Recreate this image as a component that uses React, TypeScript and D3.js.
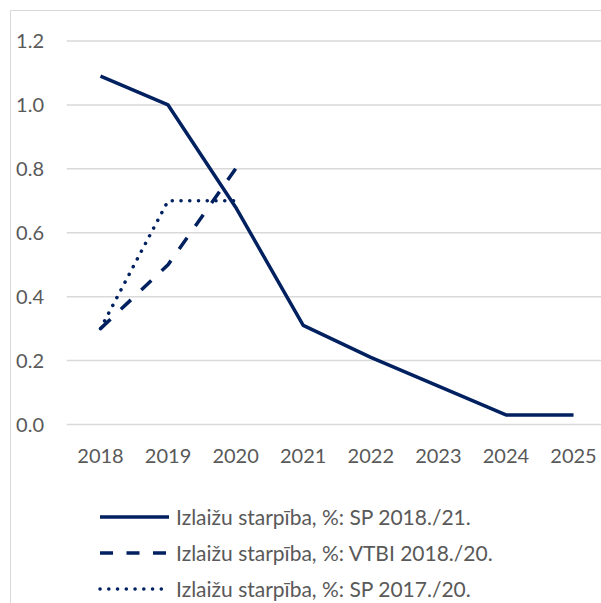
import React from "react";
import * as d3 from "d3";

const years = ["2018", "2019", "2020", "2021", "2022", "2023", "2024", "2025"];
const yTicks = [0, 0.2, 0.4, 0.6, 0.8, 1.0, 1.2];

const seriesSP1821 = [1.09, 1.0, 0.68, 0.31, 0.21, 0.12, 0.03, 0.03];
const seriesVTBI = [0.3, 0.5, 0.8];
const seriesSP1720 = [0.3, 0.7, 0.7];

const legendLabels = [
  "Izlaižu starpība, %: SP 2018./21.",
  "Izlaižu starpība, %: VTBI 2018./20.",
  "Izlaižu starpība, %: SP 2017./20.",
];

const W = 601;
const H = 603;
const COLOR = "#002060";
const FONT = "Lato, 'Open Sans', sans-serif";

export default function App() {
  const x = d3.scaleBand<string>().domain(years).range([66.7, 607.3]);
  const y = d3.scaleLinear().domain([0, 1.2]).range([424.5, 41]);
  const cx = (yr: string) => (x(yr) as number) + x.bandwidth() / 2;

  const line = d3
    .line<number>()
    .x((_, i) => cx(years[i]))
    .y((d) => y(d));

  // fit dash pattern so the dashed series starts and ends on a dash
  const pathLen = (data: number[]) => {
    let L = 0;
    for (let i = 1; i < data.length; i++) {
      L += Math.hypot(cx(years[i]) - cx(years[i - 1]), y(data[i]) - y(data[i - 1]));
    }
    return L;
  };
  const dashLen = 13;
  const gapLen = 13.5;
  const Lv = pathLen(seriesVTBI);
  const n = Math.max(1, Math.round((Lv - dashLen) / (dashLen + gapLen)));
  const k = Lv / (n * (dashLen + gapLen) + dashLen);
  const vtbiDash = `${dashLen * k} ${gapLen * k}`;

  const series = [
    { data: seriesSP1821, dash: undefined as string | undefined, legendDash: undefined as string | undefined, cap: "butt" },
    { data: seriesVTBI, dash: vtbiDash, legendDash: "13 13.5", cap: "butt" },
    { data: seriesSP1720, dash: "0.1 8.65", legendDash: "0.1 8.65", cap: "round" },
  ];

  const legendY = [517, 553, 589];

  return (
    <div style={{ position: "fixed", left: 0, top: 0, width: W, height: H, overflow: "hidden", background: "#fff" }}>
      <svg width={W} height={H} style={{ display: "block" }}>
        <rect x={10.5} y={10.5} width={800} height={800} fill="#fff" stroke="#d9d9d9" strokeWidth={1} />
        {yTicks.map((t) => (
          <g key={t}>
            <line x1={66.7} x2={607} y1={y(t)} y2={y(t)} stroke="#d9d9d9" strokeWidth={1.5} />
            <text
              x={44}
              y={y(t)}
              dy="0.36em"
              textAnchor="end"
              fontFamily={FONT}
              fontSize={20}
              fill="#595959"
            >
              {t.toFixed(1)}
            </text>
          </g>
        ))}
        {years.map((yr) => (
          <text
            key={yr}
            x={cx(yr)}
            y={463}
            textAnchor="middle"
            fontFamily={FONT}
            fontSize={20}
            fill="#595959"
          >
            {yr}
          </text>
        ))}
        {series.map((s, i) => (
          <path
            key={i}
            d={line(s.data) || ""}
            fill="none"
            stroke={COLOR}
            strokeWidth={3.5}
            strokeDasharray={s.dash}
            strokeLinecap={s.cap as any}
            strokeLinejoin="round"
          />
        ))}
        {legendLabels.map((lab, i) => (
          <g key={lab}>
            <line
              x1={100}
              x2={169}
              y1={legendY[i]}
              y2={legendY[i]}
              stroke={COLOR}
              strokeWidth={3.5}
              strokeDasharray={series[i].legendDash}
              strokeLinecap={series[i].cap as any}
            />
            <text
              x={176}
              y={legendY[i] + 8}
              fontFamily={FONT}
              fontSize={21}
              fill="#595959"
            >
              {lab}
            </text>
          </g>
        ))}
      </svg>
    </div>
  );
}
